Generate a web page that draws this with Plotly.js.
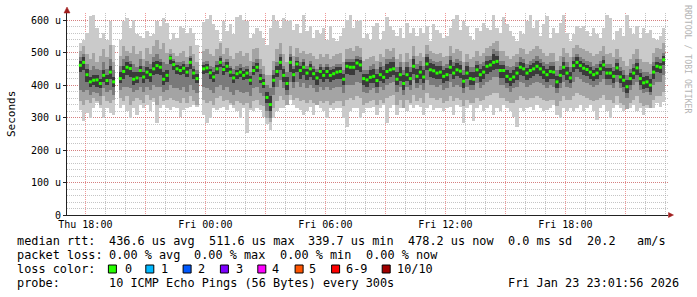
<!DOCTYPE html>
<html><head><meta charset="utf-8">
<script src="https://cdn.plot.ly/plotly-3.0.1.min.js"></script>
<style>html,body{margin:0;padding:0;background:#fff;} #chart{width:697px;height:297px;}</style>
</head><body><div id="chart"></div>
<script>
// ---- data: 10-minute steps starting Thu 2026-01-22 17:40 (values in microseconds) ----
const startUTC = Date.UTC(2026, 0, 22, 17, 40);
const stepMs = 600000;

const median = [
 461,470,432,410,415,416,405,430,414,440,410,null,420,442,455,451,418,422,445,425,440,432,450,460,455,418,430,
 483,463,450,445,452,440,470,437,420,null,450,453,438,425,450,470,448,458,440,422,435,440,430,437,415,445,455,420,405,362,
 340,415,442,470,430,405,470,432,465,445,455,437,450,435,422,442,430,442,430,435,440,442,418,458,455,455,468,462,420,416,
 424,427,414,432,424,442,447,450,418,432,405,432,420,458,427,440,425,465,447,444,437,440,427,432,455,437,447,443,412,437,
 420,418,447,432,440,458,462,470,473,445,445,427,418,425,437,455,450,437,445,450,458,450,440,432,442,440,410,430,455,437,
 422,460,470,460,452,448,440,432,437,450,462,437,437,427,453,425,415,395,420,437,453,420,407,410,400,440,458,455,478
];
const lightHi = [
 530,540,561,612,617,576,545,561,540,597,525,null,540,597,608,576,602,556,550,545,566,550,556,597,581,607,592,
 540,560,545,581,576,560,576,561,525,null,595,604,617,587,570,535,597,566,587,556,610,617,600,597,545,556,576,566,545,525,
 576,617,597,576,606,597,602,571,587,561,617,566,581,545,571,556,576,540,581,545,535,551,576,600,617,576,597,602,545,556,
 540,581,592,540,566,611,581,571,551,576,545,592,561,576,551,576,561,581,535,587,571,561,545,551,576,605,617,571,597,581,
 551,540,576,566,592,576,571,617,576,561,610,587,566,551,535,566,556,597,617,576,602,551,587,612,545,576,561,592,617,561,
 535,556,581,576,581,566,551,576,556,545,576,617,608,540,566,576,551,617,576,556,581,545,576,561,571,545,540,551,576
];
const lightLo = [
 324,288,313,298,329,344,329,298,329,313,308,null,329,339,319,298,329,308,339,329,339,319,349,282,329,339,329,
 324,334,329,303,324,329,334,339,334,null,308,282,298,329,324,329,334,324,339,329,319,298,329,251,324,319,329,324,303,280,
 262,300,319,329,329,344,355,339,329,324,308,319,334,308,339,329,319,298,329,324,329,329,298,272,319,329,329,298,313,329,
 329,334,308,329,339,282,329,339,308,329,339,319,339,329,339,334,308,329,339,324,329,329,319,329,334,308,339,334,282,329,
 339,288,329,339,319,329,339,308,329,319,339,329,319,303,272,329,319,329,334,324,339,329,319,324,329,339,308,298,329,319,
 329,319,329,339,319,329,339,319,293,329,339,319,298,329,339,329,319,334,329,339,319,329,308,329,339,329,344,334,349
];
const midHi = [
 505,520,495,480,500,470,490,510,485,525,470,null,490,520,505,500,520,495,505,480,515,495,520,540,510,530,500,
 510,500,490,500,505,485,520,495,470,null,505,510,495,490,510,530,495,515,490,480,500,505,490,500,475,510,515,480,460,430,
 430,475,510,530,495,470,520,490,515,500,505,495,500,490,480,495,485,495,480,490,495,500,470,510,515,505,520,515,475,480,
 485,490,475,495,485,510,505,515,480,495,470,500,480,520,490,500,485,525,505,500,495,500,485,490,520,500,510,505,470,495,
 480,485,505,490,500,515,520,530,535,505,505,490,480,490,495,515,510,495,505,510,520,510,500,490,500,500,475,490,515,500,
 485,515,525,515,510,505,500,490,495,505,520,495,500,485,510,485,475,460,480,495,510,480,470,470,465,500,515,510,530
];
const midLo = [
 350,340,355,345,360,350,340,365,350,345,355,null,360,350,365,340,350,360,355,345,370,355,360,340,365,350,355,
 360,355,350,345,360,345,365,350,340,null,355,345,350,340,360,365,350,355,345,340,350,345,340,345,330,350,355,340,335,300,
 285,330,350,365,355,340,370,355,360,350,355,345,355,345,340,350,345,350,340,345,350,350,335,355,360,355,365,360,340,345,
 350,355,340,355,345,360,365,370,340,355,330,355,345,370,350,360,345,375,360,360,355,360,345,350,365,350,360,355,335,355,
 345,345,360,350,355,365,370,375,375,360,360,350,345,345,355,365,360,355,360,360,365,360,355,350,355,355,335,350,365,355,
 355,365,375,370,365,360,355,350,355,360,370,355,355,345,365,345,340,325,345,355,365,345,335,340,330,355,365,365,380
];
const darkHi = [
 485,495,465,445,460,450,445,470,450,480,445,null,460,480,490,475,465,455,480,460,475,465,485,495,480,470,465,
 495,480,470,470,475,465,490,460,445,null,470,475,460,455,475,490,470,480,460,450,460,465,455,460,440,470,480,450,435,400,
 390,445,470,495,460,440,495,460,485,470,480,460,475,460,450,465,455,465,455,460,465,465,445,480,480,480,490,485,445,445,
 460,465,450,470,460,480,480,485,455,470,445,470,455,490,465,475,460,495,480,475,470,475,460,465,490,470,480,475,445,470,
 455,455,475,465,470,490,490,510,505,475,475,460,455,460,470,485,480,465,475,480,490,480,470,465,470,470,445,460,485,470,
 455,485,495,485,480,475,470,460,465,475,490,465,465,455,480,455,445,430,450,465,480,450,440,440,435,470,485,480,500
];
const darkLo = [
 385,380,385,370,380,375,365,390,380,385,370,null,385,395,395,390,380,385,395,380,395,385,400,395,395,380,385,
 400,390,390,385,395,380,400,385,375,null,395,390,385,375,395,400,385,395,380,370,385,380,375,380,365,390,395,375,365,320,
 300,370,395,415,390,370,410,390,410,395,405,390,400,390,380,395,385,395,385,390,395,395,375,400,400,400,410,405,380,375,
 385,390,375,395,385,400,405,410,380,395,370,395,385,415,390,400,385,415,400,400,395,400,385,390,410,395,400,395,375,395,
 385,385,405,390,400,410,415,425,425,400,400,390,380,390,395,410,405,395,400,405,410,405,400,390,400,395,375,390,410,395,
 390,410,425,420,410,405,400,395,400,410,420,400,400,390,410,390,380,360,385,400,410,385,375,380,370,400,410,410,430
];
const coreHi = [
 475,485,450,425,430,430,420,445,430,460,425,null,440,460,470,465,440,440,460,440,455,450,470,475,470,440,445,
 490,475,462,460,465,455,482,450,435,null,462,465,450,440,462,482,460,470,452,435,448,452,442,450,428,458,468,435,420,380,
 365,430,460,485,450,425,485,450,475,460,470,450,465,450,440,455,445,455,445,450,455,455,435,470,470,470,480,478,435,435,
 445,450,435,455,445,465,470,470,440,455,430,455,440,480,450,460,445,485,468,465,458,460,448,452,478,458,468,462,432,458,
 440,440,462,450,458,475,478,495,490,462,462,445,438,445,455,470,468,452,462,468,475,468,458,450,460,458,428,448,472,455,
 440,475,485,475,468,462,455,448,452,465,478,452,452,442,468,442,432,415,438,452,468,438,425,428,420,458,472,468,490
];
const coreLo = [
 440,445,410,395,400,395,390,410,400,420,395,null,405,420,430,425,400,405,425,405,420,410,430,435,430,400,410,
 465,445,435,430,435,425,450,420,405,null,435,438,420,410,435,455,430,440,425,405,420,425,415,420,400,430,440,405,390,345,
 320,395,425,445,410,385,440,410,440,420,430,415,425,415,400,420,410,420,410,415,420,420,400,435,430,430,445,440,400,395,
 405,408,395,412,405,420,425,430,400,412,385,412,400,435,408,420,405,445,425,422,418,420,408,412,435,418,428,422,392,418,
 400,400,425,410,420,435,440,445,450,422,422,405,398,405,415,430,428,415,422,428,435,428,420,410,420,418,390,408,432,415,
 405,440,450,440,432,428,420,412,418,432,442,418,418,408,432,405,395,375,400,418,432,400,388,390,380,420,440,438,462
];

const yTickVals = [0, 100, 200, 300, 400, 500, 600];
const yTickText = ['0', '100 u', '200 u', '300 u', '400 u', '500 u', '600 u'];

const lossLabels = ['0', '1', '2', '3', '4', '5', '6-9', '10/10'];
const lossColors = ['#26ff00', '#00b8ff', '#0059ff', '#7e00ff', '#ff00ff', '#ff5500', '#ff0000', '#a10000'];

const statsRtt = ['median rtt:', '436.6 us avg', '511.6 us max', '339.7 us min', '478.2 us now', '0.0 ms sd', '20.2', 'am/s'];
const statsLoss = ['packet loss:', '0.00 % avg', '0.00 % max', '0.00 % min', '0.00 % now'];
const probeText = ['probe:', '10 ICMP Echo Pings (56 Bytes) every 300s'];
const stampText = 'Fri Jan 23 23:01:56 2026';

// ---- layout geometry ----
const W = 697, H = 297, L = 67, R = 29, T = 13, B = 82;
const pw = W - L - R, ph = H - T - B;
const px = v => (v - L) / pw;
const py = v => (H - B - v) / ph;
const nb = s => s.replace(/ /g, '\u00A0');

const times = median.map((_, i) => startUTC + i * stepMs);
const centers = times.map(t => t + stepMs / 2);

function band(lo, hi, color) {
  return {
    type: 'bar', x: times, base: lo,
    y: hi.map((h, i) => (h == null || lo[i] == null) ? null : h - lo[i]),
    width: stepMs, offset: 0,
    marker: {color: color, line: {width: 0}},
    hoverinfo: 'skip', showlegend: false
  };
}

const traces = [
  band(lightLo, lightHi, '#cacaca'),
  band(midLo, midHi, '#a4a4a4'),
  band(darkLo, darkHi, '#7a7a7a'),
  band(coreLo, coreHi, '#3a3a3a'),
  {type: 'scatter', mode: 'markers', x: centers, y: median,
   marker: {symbol: 'square', size: 3, color: '#26ff00', line: {width: 0}},
   hoverinfo: 'skip', showlegend: false}
];

const monoFont = 'DejaVu Sans Mono, monospace';
const ann = [];
function txt(s, x, y, opts) {
  ann.push(Object.assign({text: nb(s), xref: 'paper', yref: 'paper', x: px(x), y: py(y),
    xanchor: 'left', yanchor: 'middle', showarrow: false, borderpad: 0,
    font: {family: monoFont, size: 11.85, color: '#000'}}, opts || {}));
}
const rttX = [15.5, 107.6, 207.5, 307.4, 407.3, 507.2, 585.6, 635.6];
statsRtt.forEach((s, i) => txt(s, rttX[i], 241));
const lossX = [15.5, 107.6, 193.3, 278.9, 364.5];
statsLoss.forEach((s, i) => txt(s, lossX[i], 255));
txt('loss color:', 15.5, 269);
const sqX = [108.4, 145.8, 183.1, 220.4, 257.8, 295.1, 331.6, 382.2];
const lblX = [123.6, 160, 197.3, 234.7, 271, 308.4, 344.9, 395.6];
lossLabels.forEach((s, i) => txt(s, lblX[i], 269));
txt(probeText[0], 15.5, 283);
txt(probeText[1], 107.6, 283);
txt(stampText, 680, 283, {xanchor: 'right'});

ann.push({text: 'Seconds', xref: 'paper', yref: 'paper', x: px(11), y: py(114), textangle: -90,
  xanchor: 'center', yanchor: 'middle', showarrow: false, font: {family: monoFont, size: 11, color: '#000'}});
ann.push({text: nb('RRDTOOL / TOBI OETIKER'), xref: 'paper', yref: 'paper', x: px(688), y: py(59), textangle: 90,
  xanchor: 'center', yanchor: 'middle', showarrow: false, font: {family: monoFont, size: 8.2, color: '#b4b4b4'}});

const shapes = lossColors.map((c, i) => ({
  type: 'rect', xref: 'paper', yref: 'paper', layer: 'above',
  x0: px(sqX[i]), x1: px(sqX[i] + 8), y0: py(273), y1: py(265),
  fillcolor: c, line: {color: '#000', width: 1}
}));
shapes.push({type: 'path', xref: 'paper', yref: 'paper', layer: 'above',
  path: `M ${px(64)} ${py(13)} L ${px(67)} ${py(7)} L ${px(70)} ${py(13)} Z`,
  fillcolor: '#a01e1e', line: {color: '#a01e1e', width: 0.5}});
shapes.push({type: 'path', xref: 'paper', yref: 'paper', layer: 'above',
  path: `M ${px(668.5)} ${py(212.5)} L ${px(673.5)} ${py(215)} L ${px(668.5)} ${py(217.5)} Z`,
  fillcolor: '#a01e1e', line: {color: '#a01e1e', width: 0.5}});

const layout = {
  width: W, height: H,
  margin: {l: L, r: R, t: T, b: B, pad: 0},
  paper_bgcolor: '#ffffff', plot_bgcolor: '#ffffff',
  barmode: 'overlay', bargap: 0, showlegend: false,
  font: {family: monoFont, size: 10, color: '#000'},
  xaxis: {
    type: 'date',
    range: ['2026-01-22 17:05', '2026-01-23 23:08'],
    tick0: '2026-01-22 18:00', dtick: 3 * 3600000,
    tickformat: '%a %H:%M', ticklabelstep: 2,
    showgrid: true, gridcolor: 'rgba(225,70,70,0.55)', griddash: '1px,1px', gridwidth: 1,
    minor: {tick0: '2026-01-22 18:00', dtick: 3600000, showgrid: true,
            gridcolor: 'rgba(150,150,150,0.55)', griddash: '1px,1px', gridwidth: 1},
    showline: true, linecolor: '#222', linewidth: 1,
    ticks: '', zeroline: false, fixedrange: true,
    tickfont: {family: monoFont, size: 10, color: '#000'}
  },
  yaxis: {
    range: [0, 622],
    tickmode: 'array', tickvals: yTickVals, ticktext: yTickText,
    showgrid: true, gridcolor: 'rgba(225,70,70,0.55)', griddash: '1px,1px', gridwidth: 1,
    minor: {tickmode: 'linear', tick0: 0, dtick: 20, showgrid: true,
            gridcolor: 'rgba(150,150,150,0.55)', griddash: '1px,1px', gridwidth: 1},
    showline: true, linecolor: '#222', linewidth: 1,
    ticks: 'outside', ticklen: 3, tickcolor: '#222',
    zeroline: false, fixedrange: true,
    tickfont: {family: monoFont, size: 10, color: '#000'}
  },
  annotations: ann,
  shapes: shapes
};

Plotly.newPlot('chart', traces, layout, {displayModeBar: false, staticPlot: true});
</script>
</body></html>
